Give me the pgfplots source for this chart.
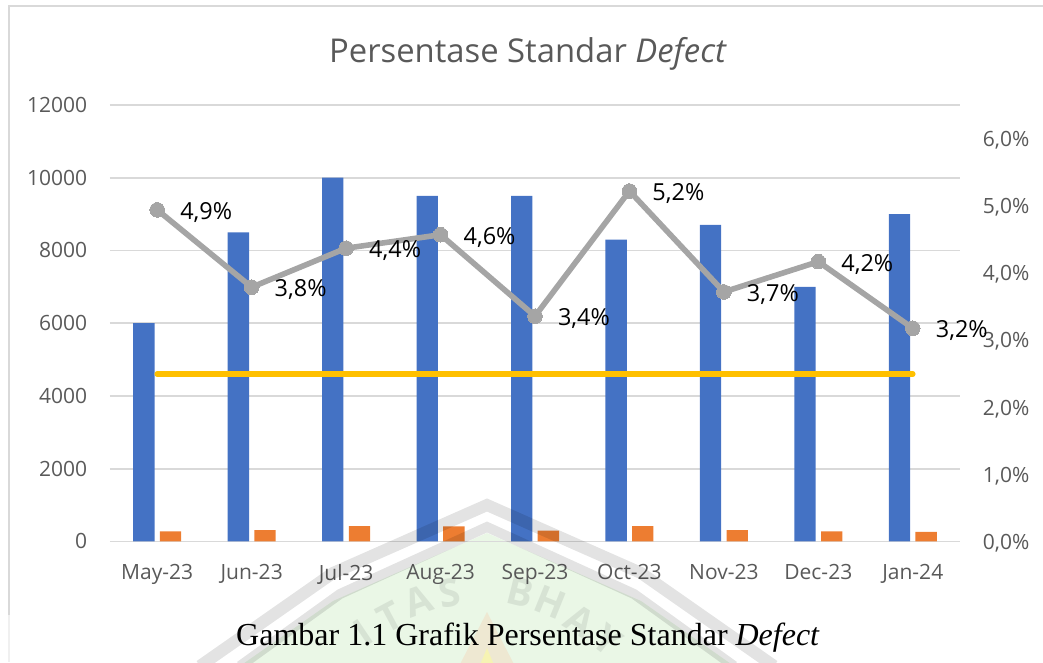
\documentclass[border=0pt]{standalone}
\usepackage{fontspec}
\setmainfont{Open Sans}
\newfontfamily\capfont{Liberation Serif}
\usepackage{pgfplots}
\pgfplotsset{compat=1.18}
\definecolor{gridc}{RGB}{217,217,217}
\definecolor{txtc}{RGB}{89,89,89}
\definecolor{barblue}{RGB}{68,114,196}
\definecolor{barorange}{RGB}{237,125,49}
\definecolor{lineyellow}{RGB}{255,192,0}
\definecolor{linegrey}{RGB}{165,165,165}
\newcommand{\tickfont}{\fontsize{15.75pt}{18pt}\selectfont}
\newcommand{\labfont}{\fontsize{17.6pt}{20pt}\selectfont}
\begin{document}
\begin{tikzpicture}
\useasboundingbox (0pt,0pt) rectangle (782.25pt,496.5pt);
% chart frame
\draw[gridc,line width=1.4pt] (6.75pt,35pt) -- (6.75pt,492pt) -- (782.25pt,492pt);
\draw[gridc!40,line width=0.8pt] (6.75pt,0pt) -- (6.75pt,35pt);
% watermark fills, under the chart
\begin{scope}[x=0.75pt,y=-0.75pt,shift={(0,-662)}]
\clip (0,0) rectangle (1043,662);
\fill[fill={rgb,255:red,190;green,230;blue,180},fill opacity=0.33]
  (487,533) -- (333,601) -- (200,694) -- (774,694) -- (641,601) -- cycle;
\fill[fill={rgb,255:red,250;green,190;blue,150},fill opacity=0.25]
  (487,612) -- (457,670) -- (517,670) -- cycle;
\fill[fill={rgb,255:red,255;green,255;blue,150},fill opacity=0.5]
  (487,648) -- (478,670) -- (496,670) -- cycle;
\end{scope}
\begin{axis}[
  at={(82.5pt,90.4pt)},anchor=south west,
  scale only axis,width=637.5pt,height=327.4pt,
  xmin=-0.5,xmax=8.5,ymin=0,ymax=12000,
  scaled y ticks=false,
  xtick={0,1,2,3,4,5,6,7,8},
  xticklabels={May-23,Jun-23,Jul-23,Aug-23,Sep-23,Oct-23,Nov-23,Dec-23,Jan-24},
  ytick={0,2000,4000,6000,8000,10000,12000},
  ymajorgrids,
  grid style={gridc,line width=1.3pt},
  axis line style={draw=none},
  major tick length=0pt,
  /pgf/number format/assume math mode=true,
  /pgf/number format/1000 sep={},
  tick label style={font=\tickfont,text=txtc},
  yticklabel style={inner sep=0pt,xshift=-17pt},
  xticklabel style={inner sep=0pt,yshift=-17pt},
  title={Persentase Standar \textit{Defect}},
  title style={at={(axis description cs:0.4918,1.0985)},anchor=center,
    font=\fontsize{24.6pt}{28pt}\selectfont,text=txtc},
  ybar=4pt,bar width=16pt,
]
\addplot[draw=none,fill=barblue] coordinates {(0,6000)(1,8500)(2,10000)(3,9500)(4,9500)(5,8300)(6,8700)(7,7000)(8,9000)};
\addplot[draw=none,fill=barorange] coordinates {(0,280)(1,310)(2,420)(3,415)(4,300)(5,420)(6,310)(7,275)(8,265)};
\end{axis}
\begin{axis}[
  at={(82.5pt,90.4pt)},anchor=south west,
  scale only axis,width=637.5pt,height=327.4pt,
  xmin=-0.5,xmax=8.5,ymin=0,ymax=6.49,
  axis y line*=right,
  axis x line=none,
  axis line style={draw=none},
  ytick={0,1,2,3,4,5,6},
  yticklabels={{0,0\%},{1,0\%},{2,0\%},{3,0\%},{4,0\%},{5,0\%},{6,0\%}},
  major tick length=0pt,
  tick label style={font=\tickfont,text=txtc},
  yticklabel style={inner sep=0pt,xshift=17pt,yshift=-1.5pt,anchor=west},
  clip=false,
]
\addplot[lineyellow,line width=4.2pt,line cap=round] coordinates {(0,2.49)(1,2.49)(2,2.49)(3,2.49)(4,2.49)(5,2.49)(6,2.49)(7,2.49)(8,2.49)};
\addplot[linegrey,line width=4.2pt,mark=*,mark size=5.5pt,
  mark options={fill=linegrey,draw=linegrey,line width=0pt},
  point meta=explicit symbolic,
  nodes near coords,
  nodes near coords style={anchor=center,xshift=36.75pt,yshift=-2pt,text=black,font=\labfont,inner sep=0pt},
] coordinates {
 (0,4.93) [{4,9\%}]
 (1,3.78) [{3,8\%}]
 (2,4.36) [{4,4\%}]
 (3,4.56) [{4,6\%}]
 (4,3.35) [{3,4\%}]
 (5,5.21) [{5,2\%}]
 (6,3.71) [{3,7\%}]
 (7,4.16) [{4,2\%}]
 (8,3.17) [{3,2\%}]
};
\end{axis}
% watermark bands and letters, over the chart
\begin{scope}[x=0.75pt,y=-0.75pt,shift={(0,-662)}]
\clip (0,0) rectangle (1043,662);
\draw[black,opacity=0.11,line width=9pt,miter limit=10]
  (200,666) -- (333,573) -- (487,505) -- (641,573) -- (774,666);
\draw[black,opacity=0.11,line width=7.5pt,miter limit=10]
  (240,666) -- (340,594) -- (487,527) -- (634,594) -- (734,666);
\foreach \c/\x/\y/\r in {I/363/632/34,T/390/617/28,A/418/601/20,S/450/593/10,B/520/592/-14,H/550/602/-22,A/580/621/-32,Y/607/640/-38}{
  \node[text=black,text opacity=0.08,font=\bfseries\fontsize{29pt}{31pt}\selectfont,rotate=\r,inner sep=0pt] at (\x,\y) {\c};
}
\end{scope}
% caption
\node[font=\capfont\fontsize{24pt}{27pt}\selectfont,text=black,anchor=center,inner sep=0pt] at (396pt,18pt) {Gambar 1.1 Grafik Persentase Standar \textit{Defect}};
\end{tikzpicture}
\end{document}
